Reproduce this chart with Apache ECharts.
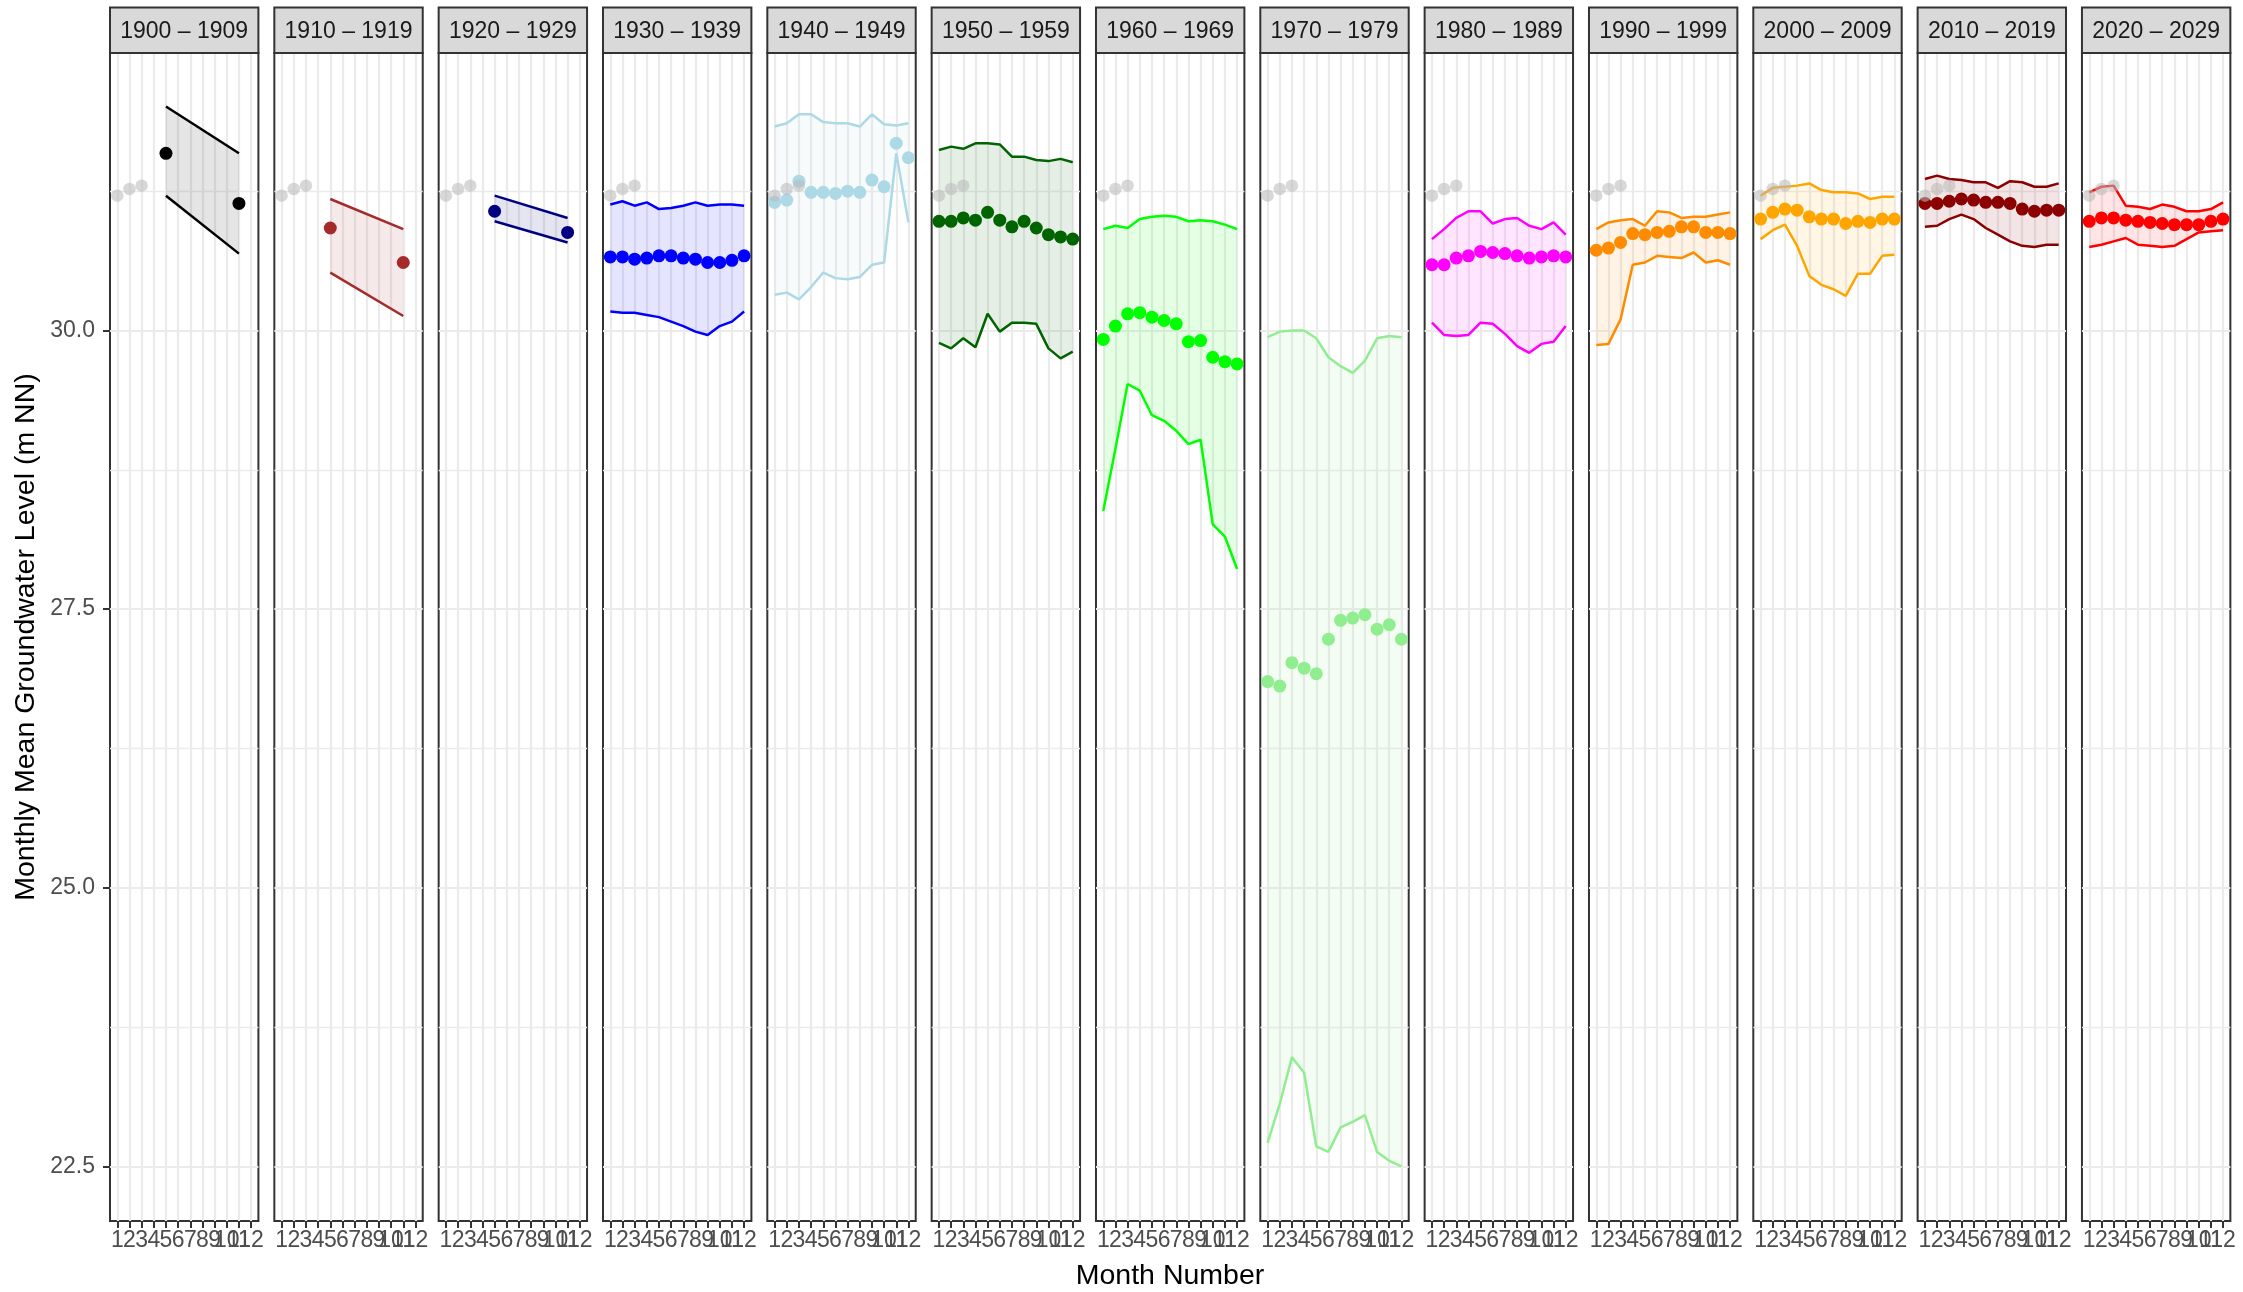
<!DOCTYPE html>
<html><head><meta charset="utf-8">
<script src="https://cdn.jsdelivr.net/npm/echarts@6/dist/echarts.min.js"></script>
<style>html,body{margin:0;padding:0;background:#fff}#chart{width:2243px;height:1292px}</style>
</head><body><div id="chart"></div>
<script>
// ---------- data ----------
const MONTHS = [1,2,3,4,5,6,7,8,9,10,11,12];
const DECADE_LABELS = ['1900 – 1909','1910 – 1919','1920 – 1929','1930 – 1939','1940 – 1949','1950 – 1959',
  '1960 – 1969','1970 – 1979','1980 – 1989','1990 – 1999','2000 – 2009','2010 – 2019','2020 – 2029'];
const Y_TICKS = [22.5, 25.0, 27.5, 30.0];
const Y_MINOR = [23.75, 26.25, 28.75, 31.25];
const RECENT_MONTHS = [1, 2, 3];
const RECENT_VALUES = [31.21, 31.27, 31.30];

const mean1900  = [null,null,null,null,31.59,null,null,null,null,null,31.14,null];
const upper1900 = [null,null,null,null,32.01,null,null,null,null,null,31.59,null];
const lower1900 = [null,null,null,null,31.21,null,null,null,null,null,30.69,null];

const mean1910  = [null,null,null,null,30.92,null,null,null,null,null,30.61,null];
const upper1910 = [null,null,null,null,31.18,null,null,null,null,null,30.91,null];
const lower1910 = [null,null,null,null,30.52,null,null,null,null,null,30.13,null];

const mean1920  = [null,null,null,null,31.07,null,null,null,null,null,30.88,null];
const upper1920 = [null,null,null,null,31.21,null,null,null,null,null,31.01,null];
const lower1920 = [null,null,null,null,30.98,null,null,null,null,null,30.79,null];

const mean1930  = [30.66,30.66,30.64,30.65,30.67,30.67,30.65,30.64,30.61,30.61,30.63,30.67];
const upper1930 = [31.13,31.16,31.12,31.15,31.09,31.10,31.12,31.15,31.12,31.13,31.13,31.12];
const lower1930 = [30.17,30.16,30.16,30.14,30.12,30.08,30.04,29.99,29.96,30.04,30.08,30.17];

const mean1940  = [31.15,31.17,31.34,31.24,31.24,31.23,31.25,31.24,31.35,31.29,31.68,31.55];
const upper1940 = [31.83,31.86,31.94,31.94,31.87,31.86,31.86,31.83,31.94,31.85,31.84,31.86];
const lower1940 = [30.32,30.34,30.28,30.39,30.52,30.47,30.46,30.48,30.59,30.61,31.59,30.97];

const mean1950  = [30.98,30.98,31.01,30.99,31.06,30.99,30.93,30.98,30.92,30.86,30.84,30.82];
const upper1950 = [31.62,31.65,31.63,31.68,31.68,31.67,31.56,31.56,31.53,31.52,31.54,31.51];
const lower1950 = [29.89,29.84,29.93,29.85,30.15,29.99,30.07,30.07,30.06,29.84,29.75,29.81];

const mean1960  = [29.92,30.04,30.15,30.16,30.12,30.09,30.06,29.90,29.91,29.76,29.72,29.70];
const upper1960 = [30.91,30.94,30.92,31.00,31.02,31.03,31.02,30.98,30.99,30.98,30.95,30.91];
const lower1960 = [28.38,28.94,29.52,29.46,29.24,29.19,29.10,28.98,29.02,28.26,28.15,27.86];

const mean1970  = [26.85,26.81,27.02,26.97,26.92,27.23,27.40,27.42,27.45,27.32,27.36,27.23];
const upper1970 = [29.94,29.99,30.00,30.00,29.93,29.76,29.68,29.62,29.73,29.93,29.95,29.94];
const lower1970 = [22.71,23.06,23.48,23.34,22.68,22.63,22.85,22.90,22.96,22.63,22.55,22.50];

const mean1980  = [30.59,30.59,30.65,30.67,30.71,30.70,30.69,30.67,30.65,30.66,30.67,30.66];
const upper1980 = [30.82,30.91,31.01,31.07,31.07,30.96,31.00,31.01,30.94,30.91,30.97,30.86];
const lower1980 = [30.07,29.96,29.95,29.96,30.07,30.06,29.97,29.86,29.80,29.88,29.90,30.04];

const mean1990  = [30.72,30.74,30.79,30.87,30.86,30.88,30.89,30.93,30.93,30.88,30.88,30.87];
const upper1990 = [30.91,30.97,30.99,31.00,30.94,31.07,31.06,31.01,31.02,31.02,31.04,31.06];
const lower1990 = [29.87,29.88,30.10,30.59,30.61,30.67,30.66,30.65,30.70,30.61,30.63,30.59];

const mean2000  = [31.00,31.06,31.09,31.08,31.02,31.00,31.00,30.96,30.98,30.97,31.00,31.00];
const upper2000 = [31.21,31.28,31.29,31.30,31.32,31.26,31.24,31.24,31.23,31.18,31.20,31.20];
const lower2000 = [30.82,30.90,30.95,30.76,30.49,30.41,30.37,30.31,30.51,30.51,30.67,30.68];

const mean2010  = [31.14,31.14,31.16,31.18,31.17,31.15,31.15,31.14,31.09,31.07,31.08,31.08];
const upper2010 = [31.36,31.39,31.36,31.35,31.33,31.33,31.28,31.34,31.33,31.29,31.29,31.32];
const lower2010 = [30.93,30.94,31.00,31.04,31.00,30.92,30.86,30.80,30.76,30.75,30.77,30.77];

const mean2020  = [30.98,31.01,31.01,30.99,30.98,30.97,30.96,30.95,30.95,30.95,30.98,31.00];
const upper2020 = [31.24,31.29,31.30,31.12,31.11,31.09,31.13,31.11,31.07,31.07,31.09,31.15];
const lower2020 = [30.75,30.77,30.80,30.83,30.77,30.76,30.75,30.76,30.82,30.88,30.89,30.90];

const DECADE_COLORS = ['#000000','#a52a2a','#000080','#0000ff','#add8e6','#006400',
  '#00ff00','#90ee90','#ff00ff','#ff8c00','#ffa500','#8b0000','#ff0000'];

// ---------- build ----------
const MEANS  = [mean1900,mean1910,mean1920,mean1930,mean1940,mean1950,mean1960,mean1970,mean1980,mean1990,mean2000,mean2010,mean2020];
const UPPERS = [upper1900,upper1910,upper1920,upper1930,upper1940,upper1950,upper1960,upper1970,upper1980,upper1990,upper2000,upper2010,upper2020];
const LOWERS = [lower1900,lower1910,lower1920,lower1930,lower1940,lower1950,lower1960,lower1970,lower1980,lower1990,lower2000,lower2010,lower2020];

const FONT = '"Liberation Sans", Arial, Helvetica, sans-serif';
const PANEL_LEFT0 = 110, PANEL_STEP = 164.33, PANEL_W = 148.4, PANEL_TOP = 53, PANEL_H = 1168;
const Y_MIN = 22.01, Y_MAX = 32.49;
const X_MIN = 0.4, X_MAX = 12.6;

function rgba(hex, a) {
  const r = parseInt(hex.slice(1,3),16), g = parseInt(hex.slice(3,5),16), b = parseInt(hex.slice(5,7),16);
  return 'rgba(' + r + ',' + g + ',' + b + ',' + a + ')';
}
function pairs(arr) {
  return MONTHS.map((m, i) => [m, arr[i]]).filter(d => d[1] != null);
}

const grids = [], xAxes = [], yAxes = [], series = [], graphics = [];

DECADE_LABELS.forEach((label, i) => {
  const left = PANEL_LEFT0 + i * PANEL_STEP;
  const color = DECADE_COLORS[i];
  grids.push({left: left, top: PANEL_TOP, width: PANEL_W, height: PANEL_H, containLabel: false,
    outerBoundsMode: 'none',
    show: true, backgroundColor: '#ffffff', borderColor: '#333333', borderWidth: 2, z: 0});
  xAxes.push({type: 'value', gridIndex: i, min: X_MIN, max: X_MAX,
    axisLine: {show: false},
    splitLine: {show: false},
    axisTick: {show: true, length: 7, customValues: MONTHS, lineStyle: {color: '#333333', width: 2}},
    // empty end labels at the axis limits absorb ECharts' min/max overlap hiding
    axisLabel: {show: true, customValues: [X_MIN].concat(MONTHS, [X_MAX]), margin: 8, fontSize: 23,
      color: '#4d4d4d', fontFamily: FONT, hideOverlap: false,
      formatter: v => (v < 0.9 || v > 12.1) ? '' : String(Math.round(v))}
  });
  const first = i === 0;
  yAxes.push({type: 'value', gridIndex: i, min: Y_MIN, max: Y_MAX,
    axisLine: {show: false}, splitLine: {show: false},
    axisTick: {show: first, length: 7, customValues: Y_TICKS, lineStyle: {color: '#333333', width: 2}},
    axisLabel: {show: first, customValues: Y_TICKS, margin: 15, fontSize: 23, color: '#4d4d4d', fontFamily: FONT,
      showMinLabel: true, showMaxLabel: true, hideOverlap: false,
      formatter: v => v.toFixed(1)}
  });
  // grid lines
  series.push({type: 'line', xAxisIndex: i, yAxisIndex: i, data: [], z: 1, silent: true, animation: false,
    markLine: {silent: true, z: 1, symbol: 'none', animation: false, label: {show: false},
      lineStyle: {color: '#ebebeb', width: 2.2, type: 'solid'},
      emphasis: {disabled: true},
      data: MONTHS.map(m => ({xAxis: m}))
        .concat(Y_TICKS.map(v => ({yAxis: v})))
        .concat(Y_MINOR.map(v => ({yAxis: v, lineStyle: {color: '#ebebeb', width: 1.4, type: 'solid'}})))
    }
  });
  // ribbon
  const up = UPPERS[i], lo = LOWERS[i];
  series.push({type: 'custom', xAxisIndex: i, yAxisIndex: i, z: 2, silent: true, animation: false, clip: true,
    data: [[6, 27]],
    renderItem: function (params, api) {
      const idx = MONTHS.map((m, k) => k).filter(k => up[k] != null && lo[k] != null);
      const pts = [];
      idx.forEach(k => pts.push(api.coord([MONTHS[k], up[k]])));
      idx.slice().reverse().forEach(k => pts.push(api.coord([MONTHS[k], lo[k]])));
      return {type: 'polygon', shape: {points: pts}, style: {fill: rgba(color, 0.1)}};
    }
  });
  // upper & lower lines
  [up, lo].forEach(arr => {
    series.push({type: 'line', xAxisIndex: i, yAxisIndex: i, z: 3, silent: true, animation: false,
      data: pairs(arr), showSymbol: false, symbol: 'none',
      lineStyle: {color: color, width: 2.5, type: 'solid'}});
  });
  // means
  series.push({type: 'scatter', xAxisIndex: i, yAxisIndex: i, z: 4, silent: true, animation: false,
    data: pairs(MEANS[i]), symbol: 'circle', symbolSize: 13, itemStyle: {color: color, opacity: 1}});
  // recent values (grey)
  series.push({type: 'scatter', xAxisIndex: i, yAxisIndex: i, z: 5, silent: true, animation: false,
    data: RECENT_MONTHS.map((m, k) => [m, RECENT_VALUES[k]]), symbol: 'circle', symbolSize: 12.5,
    itemStyle: {color: 'rgba(185,185,185,0.7)'}});
  // strip
  graphics.push({type: 'rect', shape: {x: left, y: 7.5, width: PANEL_W, height: PANEL_TOP - 7.5},
    style: {fill: '#d9d9d9', stroke: '#333333', lineWidth: 2}, z: 10, silent: true});
  graphics.push({type: 'text', x: left + PANEL_W / 2, y: (7.5 + PANEL_TOP) / 2 + 1, z: 11, silent: true,
    style: {text: label, fill: '#1a1a1a', font: '23px ' + FONT, align: 'center', verticalAlign: 'middle',
      textAlign: 'center', textVerticalAlign: 'middle'}});
});

graphics.push({type: 'text', x: 1170, y: 1276, silent: true,
  style: {text: 'Month Number', fill: '#000000', font: '28.5px ' + FONT, align: 'center', verticalAlign: 'middle',
    textAlign: 'center', textVerticalAlign: 'middle'}});
graphics.push({type: 'text', x: 26, y: 637, rotation: Math.PI / 2, silent: true,
  style: {text: 'Monthly Mean Groundwater Level (m NN)', fill: '#000000', font: '28.5px ' + FONT,
    align: 'center', verticalAlign: 'middle', textAlign: 'center', textVerticalAlign: 'middle'}});

const chart = echarts.init(document.getElementById('chart'), null, {renderer: 'canvas', width: 2243, height: 1292});
chart.setOption({
  backgroundColor: '#ffffff',
  animation: false,
  grid: grids, xAxis: xAxes, yAxis: yAxes, series: series,
  graphic: graphics
});
</script></body></html>
